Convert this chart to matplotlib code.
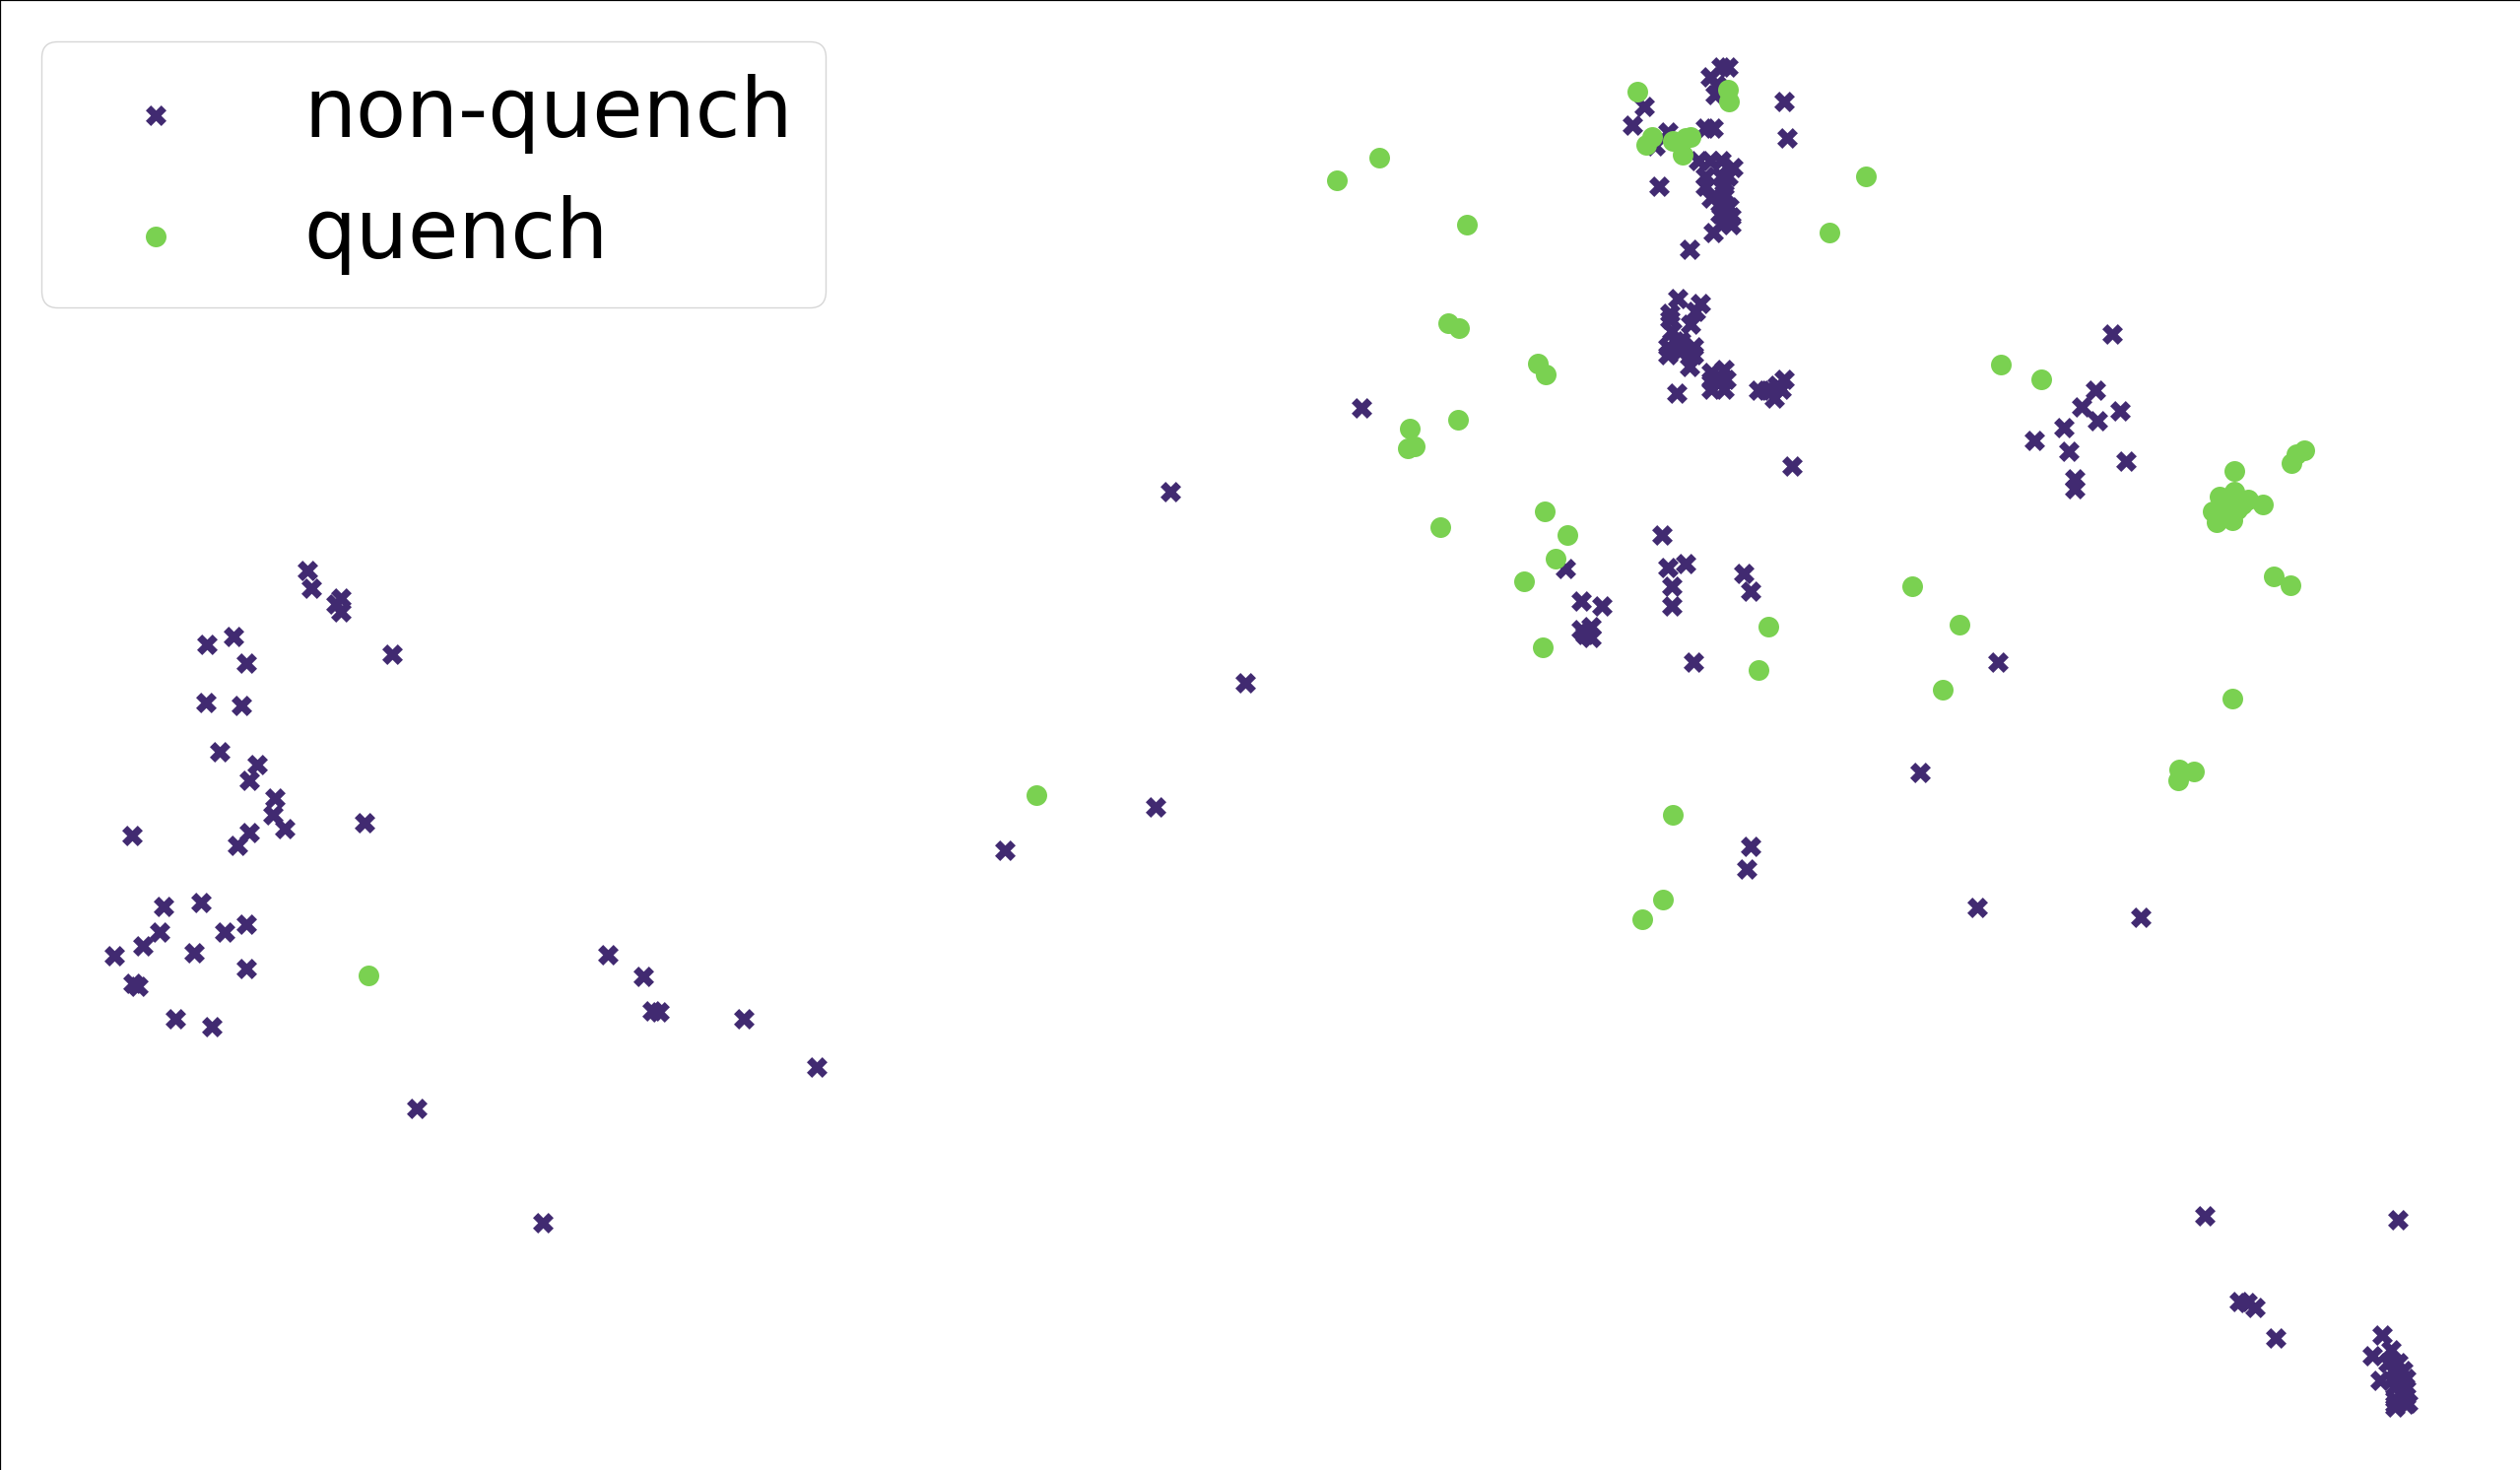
import matplotlib
matplotlib.use("Agg")
import matplotlib.pyplot as plt

non_quench_x = [191,194,212,209,212,244,145,129,153,128,150,137,160,155,171,170,177,155,148,82,227,
    102,125,153,140,99,89,71,121,153,83,86,109,132,259,338,378,400,406,410,463,508,625,719,775,728,847,
    974,984,997,984,990,986,990,1034,1038,1049,1040,1040,1085,1089,1054,1089,1087,1195,1243,1230,1332,1115,
    1314,1304,1295,1319,1305,1284,1266,1287,1323,1291,1291,
    1372,1492,1393,1398,1403,1416,1482,1476,1488,1481,1490,1498,
    1486,1492,1489,1495,1491,1497,1490,1496,1493,1490,1497,1490,1497,
    1071,1075,1064,1068,1067,1110,1112,1023,1016,1038,1030,1061,1066,1032,1051,
    1057,1064,1071,1078,1061,1071,1075,1061,1073,1065,1073,1071,1076,1070,1077,1071,1077,1066,
    1044,1058,1039,1055,1039,1052,1040,1038,1054,1038,1054,1045,1046,1042,1051,1043,
    1065,1073,1065,1073,1070,1065,1074,
    1094,1110,1108,1104,1102,1106,1099]
non_quench_y = [355,366,372,376,381,407,396,401,413,437,439,468,476,486,497,507,516,518,526,520,512,
    564,562,575,580,580,589,595,593,603,612,614,634,639,690,761,594,608,629,630,634,664,529,502,425,306,254,
    354,374,377,392,390,395,397,333,353,351,365,377,357,368,412,527,541,481,412,565,571,290,
    208,243,253,256,262,266,274,281,287,298,304,
    757,759,810,811,814,833,831,844,840,859,876,873,
    848,848,853,853,858,858,863,863,867,871,869,874,874,
    42,42,48,53,59,63,86,66,78,82,91,80,80,116,155,
    100,100,100,104,110,110,110,116,116,123,120,128,129,133,135,139,140,145,
    186,189,195,194,199,202,206,216,216,221,221,219,212,212,228,245,
    232,230,242,242,236,237,236,
    243,236,242,248,243,240,243]
quench_x = [832,858,913,1019,1075,1076,1028,1024,1041,1047,1052,1049,1161,1138,
    901,908,957,962,907,877,876,880,896,961,975,968,948,960,1100,1094,1190,1219,1209,1245,1270,
    1041,1035,1022,645,229,1389,1356,1355,1365,1415,1425,
    1390,1408,1434,1429,1426,1381,1390,1399,1377,1379,1389,1386,1392,1384,1395]
quench_y = [112,98,140,57,56,63,85,90,88,96,85,86,110,145,
    201,204,226,233,261,267,279,278,328,318,333,348,362,403,390,417,365,389,429,227,236,
    507,560,572,495,607,435,479,486,480,359,364,
    293,314,280,283,288,309,306,311,318,325,324,315,317,321,314]

fig = plt.figure(figsize=(25.58, 14.92), dpi=100)
ax = fig.add_axes([0, 0, 1, 1])
ax.scatter(non_quench_x, non_quench_y, s=228, marker="X", color="#412a71", linewidths=0, label="non-quench", zorder=2)
ax.scatter(quench_x, quench_y, s=228, marker="o", color="#7ad151", linewidths=0, label="quench", zorder=3)
ax.set_xlim(0, 1568)
ax.set_ylim(915, 0)
ax.set_xticks([])
ax.set_yticks([])
ax.spines["right"].set_visible(False)
ax.spines["bottom"].set_visible(False)
ax.spines["left"].set_linewidth(1.6)
ax.spines["top"].set_linewidth(1.6)
ax.legend(loc="upper left", fontsize=60)
fig.savefig("out.png", dpi=100)
